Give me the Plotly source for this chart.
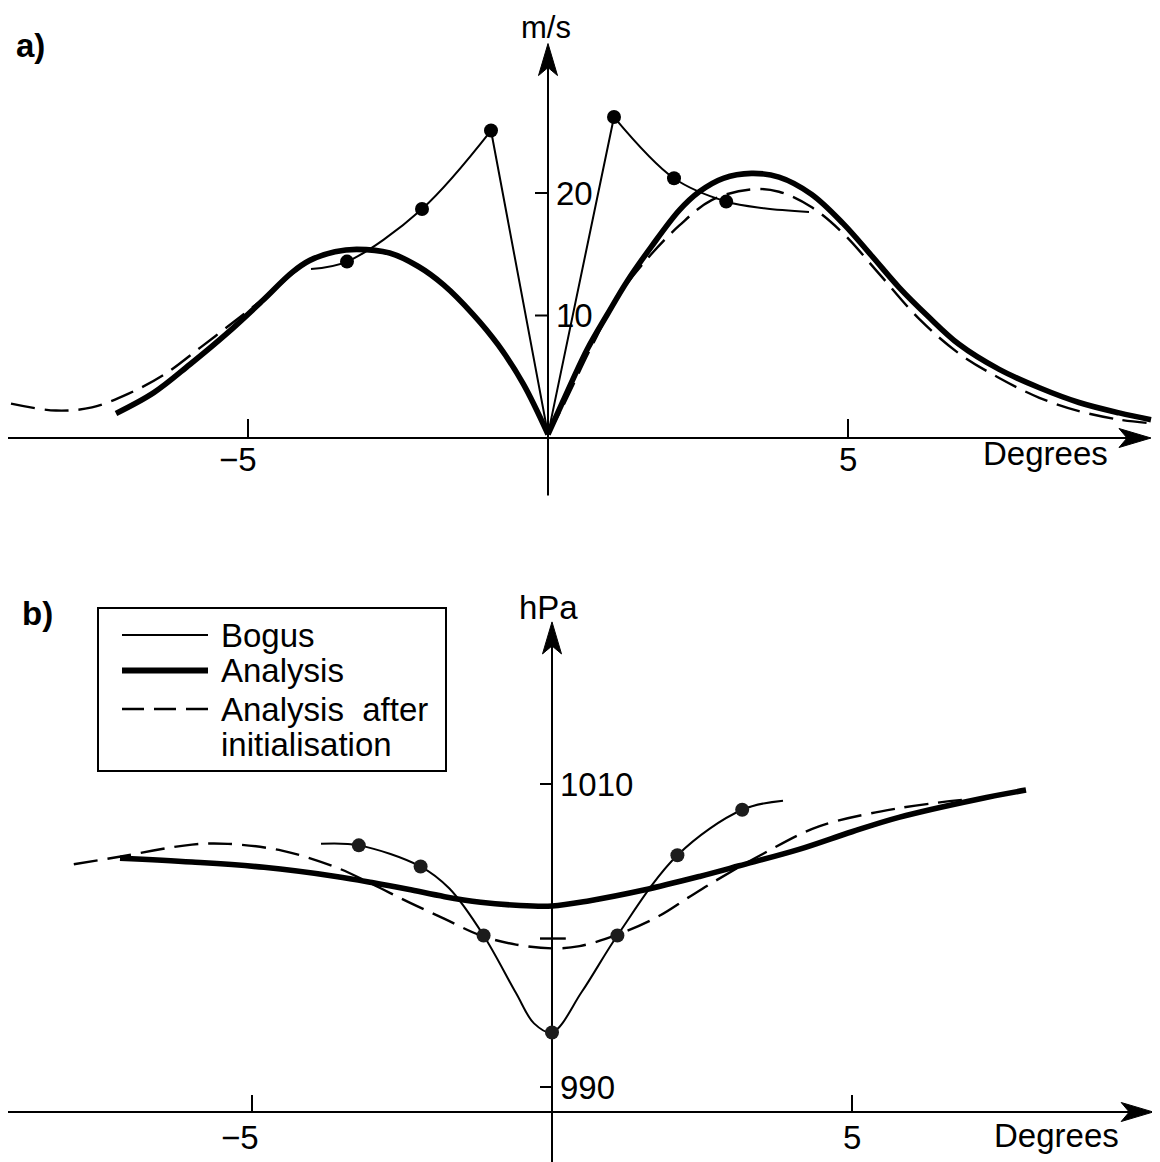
import plotly.graph_objects as go

W, H = 1160, 1162

# ---------------- panel a: wind speed (m/s) ----------------
a_bogus_left_x = [-3.95, -3.35, -2.1, -0.95]
a_bogus_left_y = [13.8, 14.4, 18.7, 25.1]
a_bogus_v_x = [-0.95, 0.0, 1.1]
a_bogus_v_y = [25.1, 0.3, 26.2]
a_bogus_right_x = [1.1, 2.1, 2.97, 3.6, 4.35]
a_bogus_right_y = [26.2, 21.2, 19.3, 18.75, 18.45]
a_bogus_dot_x = [-3.35, -2.1, -0.95, 1.1, 2.1, 2.97]
a_bogus_dot_y = [14.4, 18.7, 25.1, 26.2, 21.2, 19.3]

a_ana_left_x = [-7.2, -6.57, -5.97, -5.36, -4.76, -4.27, -3.97, -3.55, -3.19,
                -2.64, -2.16, -1.74, -1.25, -0.83, -0.41, 0.0]
a_ana_left_y = [2.0, 3.7, 6.0, 8.5, 11.2, 13.5, 14.5, 15.2, 15.4,
                15.1, 14.0, 12.5, 10.1, 7.6, 4.4, 0.3]
a_ana_right_x = [0.0, 0.25, 0.65, 0.99, 1.32, 1.72, 2.19, 2.52, 2.92, 3.39, 3.85,
                 4.39, 4.92, 5.39, 5.85, 6.32, 6.85, 7.52, 8.19, 8.85, 9.52, 10.05]
a_ana_right_y = [0.3, 3.0, 7.2, 10.1, 12.8, 15.6, 18.6, 20.1, 21.2, 21.6, 21.3,
                 19.9, 17.5, 14.9, 12.3, 10.0, 7.65, 5.6, 4.1, 2.9, 2.05, 1.5]

a_dash_left_x = [-8.95, -8.2, -7.6, -7.0, -6.39, -5.79, -5.18, -4.64, -4.21, -3.97,
                 -3.55, -3.19, -2.64, -2.16, -1.74, -1.25, -0.83, -0.41, 0.0]
a_dash_left_y = [2.8, 2.24, 2.5, 3.6, 5.2, 7.4, 9.7, 11.8, 13.6, 14.5,
                 15.2, 15.4, 15.1, 14.0, 12.5, 10.1, 7.6, 4.4, 0.3]
a_dash_right_x = [0.0, 0.25, 0.72, 1.19, 1.72, 2.19, 2.72, 3.39, 3.85, 4.39,
                  4.92, 5.52, 6.19, 6.85, 7.52, 8.19, 8.85, 9.52, 9.99]
a_dash_right_y = [0.3, 2.6, 7.4, 11.7, 15.0, 17.35, 19.4, 20.3, 20.1, 18.85,
                  16.7, 13.4, 9.7, 6.9, 4.9, 3.28, 2.19, 1.5, 1.23]

a_xticks = [-5, 5]
a_xtick_labels = ["\u22125", "5"]
a_yticks = [10, 20]
a_ytick_labels = ["10", "20"]

# ---------------- panel b: pressure (hPa) ----------------
b_bogus_x = [-3.85, -3.22, -2.19, -1.71, -1.14, -0.6, -0.3, 0.0, 0.5, 1.09, 2.09, 3.17, 3.85]
b_bogus_y = [1006.05, 1005.95, 1004.55, 1003.1, 1000.0, 996.2, 994.2, 993.6, 996.3, 1000.0,
             1005.3, 1008.3, 1008.9]
b_bogus_dot_x = [-3.22, -2.19, -1.14, 0.0, 1.09, 2.09, 3.17]
b_bogus_dot_y = [1005.95, 1004.55, 1000.0, 993.6, 1000.0, 1005.3, 1008.3]

b_ana_x = [-7.2, -6.0, -4.8, -3.6, -3.0, -2.4, -1.79, -1.19, -0.6, 0.0, 0.63, 1.53,
           2.46, 3.12, 4.13, 5.0, 5.78, 7.1, 7.9]
b_ana_y = [1005.1, 1004.85, 1004.5, 1003.9, 1003.5, 1003.05, 1002.56, 1002.2, 1002.0, 1001.95,
           1002.3, 1003.0, 1003.9, 1004.6, 1005.7, 1006.85, 1007.8, 1009.0, 1009.6]

b_dash_x = [-7.97, -7.21, -6.0, -5.4, -4.5, -3.6, -3.0, -2.39, -1.79, -1.19, -0.6, 0.0,
            0.46, 1.1, 1.79, 2.27, 2.72, 3.52, 4.45, 5.78, 6.95]
b_dash_y = [1004.7, 1005.2, 1006.0, 1006.05, 1005.6, 1004.5, 1003.4, 1002.2, 1001.1, 1000.0,
            999.4, 999.15, 999.3, 1000.07, 1001.3, 1002.5, 1003.6, 1005.4, 1007.2, 1008.4, 1009.0]

b_mark_x = [-0.2, 0.23]
b_mark_y = [999.8, 999.8]

b_xticks = [-5, 5]
b_xtick_labels = ["\u22125", "5"]
b_yticks = [990, 1010]
b_ytick_labels = ["990", "1010"]

legend_labels = ["Bogus", "Analysis", "Analysis\u00a0\u00a0after", "initialisation"]

# ---------------- layout geometry (reference pixels; page body margin OFF) ----------------
OFF = 8
A_X0, A_PPD, A_Y0, A_PPU, A_TOP, A_BOT = 548, 60.0, 438, 12.25, 8, 548
B_X0, B_PPD, B_YREF, B_YREFV, B_PPU, B_TOP, B_BOT = 552, 60.0, 784, 1010.0, 15.15, 560, 1170


def fx(xp):
    return xp - OFF


def fy(yp):
    return yp - OFF


a_xr = [-fx(A_X0) / A_PPD, (W - fx(A_X0)) / A_PPD]
a_yr = [(A_Y0 - A_BOT) / A_PPU, (A_Y0 - A_TOP) / A_PPU]
b_xr = [-fx(B_X0) / B_PPD, (W - fx(B_X0)) / B_PPD]
b_yr = [B_YREFV - (B_BOT - B_YREF) / B_PPU, B_YREFV + (B_YREF - B_TOP) / B_PPU]

FONT = "Liberation Sans, Arial, Helvetica, sans-serif"
BLACK = "#000000"
THIN, THICK, DASHW = 2.0, 5.6, 2.4
DASH = "24px,10px"
TS = 33

fig = go.Figure()


def line(x, y, xa, ya, width, dash="solid", shape="spline"):
    fig.add_trace(go.Scatter(x=x, y=y, xaxis=xa, yaxis=ya, mode="lines",
                             line=dict(color=BLACK, width=width, dash=dash, shape=shape,
                                       smoothing=1.0),
                             showlegend=False, hoverinfo="skip"))


def dots(x, y, xa, ya, color):
    fig.add_trace(go.Scatter(x=x, y=y, xaxis=xa, yaxis=ya, mode="markers",
                             marker=dict(color=color, size=14, line=dict(width=0)),
                             showlegend=False, hoverinfo="skip"))


# panel a
line(a_dash_left_x, a_dash_left_y, "x", "y", DASHW, DASH)
line(a_dash_right_x, a_dash_right_y, "x", "y", DASHW, DASH)
line(a_ana_left_x, a_ana_left_y, "x", "y", THICK)
line(a_ana_right_x, a_ana_right_y, "x", "y", THICK)
line(a_bogus_left_x, a_bogus_left_y, "x", "y", THIN)
line(a_bogus_v_x, a_bogus_v_y, "x", "y", THIN, shape="linear")
line(a_bogus_right_x, a_bogus_right_y, "x", "y", THIN)
dots(a_bogus_dot_x, a_bogus_dot_y, "x", "y", BLACK)

# panel b
line(b_dash_x, b_dash_y, "x2", "y2", DASHW, DASH)
line(b_mark_x, b_mark_y, "x2", "y2", DASHW, shape="linear")
line(b_ana_x, b_ana_y, "x2", "y2", THICK)
line(b_bogus_x, b_bogus_y, "x2", "y2", THIN)
dots(b_bogus_dot_x, b_bogus_dot_y, "x2", "y2", "#1c1c1c")

shapes = []
annotations = []


def seg(xref, yref, x0, y0, x1, y1, width=2.0):
    shapes.append(dict(type="line", xref=xref, yref=yref, x0=x0, y0=y0, x1=x1, y1=y1,
                       line=dict(color=BLACK, width=width), layer="below"))


def arrowhead(xref, yref, tx, ty, direction, ppd, ppu, L=32, N=24, hw=9.5):
    if direction == "up":
        p = (f"M {tx},{ty} L {tx - hw / ppd},{ty - L / ppu} L {tx},{ty - N / ppu} "
             f"L {tx + hw / ppd},{ty - L / ppu} Z")
    else:
        p = (f"M {tx},{ty} L {tx - L / ppd},{ty + hw / ppu} L {tx - N / ppd},{ty} "
             f"L {tx - L / ppd},{ty - hw / ppu} Z")
    shapes.append(dict(type="path", xref=xref, yref=yref, path=p,
                       fillcolor=BLACK, line=dict(color=BLACK, width=1)))


def text(x, y, s, size=TS, xref="paper", yref="paper", xanchor="center", yanchor="middle",
         bold=False, xshift=0, yshift=0):
    annotations.append(dict(x=x, y=y, xref=xref, yref=yref, text=f"<b>{s}</b>" if bold else s,
                            showarrow=False, xanchor=xanchor, yanchor=yanchor,
                            xshift=xshift, yshift=yshift,
                            font=dict(family=FONT, size=size, color=BLACK)))


def px(xp):
    return fx(xp) / W


def py(yp):
    return 1 - fy(yp) / H


# ---- panel a axes ----
a_axis_y = 0.0
seg("x", "y", a_xr[0], a_axis_y, 10.05 - 0.3, a_axis_y)
arrowhead("x", "y", 10.05, a_axis_y, "right", A_PPD, A_PPU)
seg("x", "y", 0, -4.7, 0, 32.2 - 0.8)
arrowhead("x", "y", 0, 32.2, "up", A_PPD, A_PPU)
for t, lab in zip(a_xticks, a_xtick_labels):
    seg("x", "y", t, a_axis_y, t, a_axis_y + 19 / A_PPU)
    text(t, a_axis_y, lab, xref="x", yref="y", yshift=-21, xshift=-10 if t < 0 else 0)
for t, lab in zip(a_yticks, a_ytick_labels):
    seg("x", "y", -13 / A_PPD, t, 0, t)
    text(0, t, lab, xref="x", yref="y", xanchor="left", xshift=6)
text(px(546), py(27), "m/s", size=31)
text(px(1045), py(453), "Degrees")
text(px(30), py(45), "a)", bold=True)

# ---- panel b axes ----
b_axis_y = 988.35
seg("x2", "y2", b_xr[0], b_axis_y, 10.02 - 0.3, b_axis_y)
arrowhead("x2", "y2", 10.02, b_axis_y, "right", B_PPD, B_PPU)
seg("x2", "y2", 0, b_yr[0], 0, 1020.7 - 0.8)
arrowhead("x2", "y2", 0, 1020.7, "up", B_PPD, B_PPU)
for t, lab in zip(b_xticks, b_xtick_labels):
    seg("x2", "y2", t, b_axis_y, t, b_axis_y + 17 / B_PPU)
    text(t, b_axis_y, lab, xref="x2", yref="y2", yshift=-25, xshift=-12 if t < 0 else 0)
for t, lab in zip(b_yticks, b_ytick_labels):
    seg("x2", "y2", -12 / B_PPD, t, 0, t)
    text(0, t, lab, xref="x2", yref="y2", xanchor="left", xshift=6)
text(px(548), py(607), "hPa")
text(px(1056), py(1135), "Degrees")
text(px(37), py(613), "b)", bold=True)

# ---- legend (drawn) ----
shapes.append(dict(type="rect", xref="paper", yref="paper", x0=px(98), x1=px(446),
                   y0=py(771), y1=py(608), line=dict(color=BLACK, width=2),
                   fillcolor="rgba(0,0,0,0)"))
leg_y = [635, 670.5, 709, 744]
shapes.append(dict(type="line", xref="paper", yref="paper", x0=px(122), x1=px(208),
                   y0=py(leg_y[0]), y1=py(leg_y[0]), line=dict(color=BLACK, width=THIN)))
shapes.append(dict(type="line", xref="paper", yref="paper", x0=px(122), x1=px(208),
                   y0=py(leg_y[1]), y1=py(leg_y[1]), line=dict(color=BLACK, width=THICK + 0.5)))
shapes.append(dict(type="line", xref="paper", yref="paper", x0=px(122), x1=px(208),
                   y0=py(leg_y[2]), y1=py(leg_y[2]), line=dict(color=BLACK, width=DASHW,
                                                              dash="22px,10px")))
for lab, yy in zip(legend_labels, leg_y):
    text(px(219), py(yy), lab, xanchor="left", size=TS)

fig.update_layout(
    width=W, height=H, margin=dict(l=0, r=0, t=0, b=0),
    paper_bgcolor="white", plot_bgcolor="white",
    xaxis=dict(domain=[0, 1], range=a_xr, visible=False, anchor="y"),
    yaxis=dict(domain=[py(A_BOT), py(A_TOP)], range=a_yr, visible=False, anchor="x"),
    xaxis2=dict(domain=[0, 1], range=b_xr, visible=False, anchor="y2"),
    yaxis2=dict(domain=[max(0.0, py(B_BOT)), py(B_TOP)], range=b_yr, visible=False, anchor="x2"),
    shapes=shapes, annotations=annotations, showlegend=False,
)

fig.write_html("out.html")
